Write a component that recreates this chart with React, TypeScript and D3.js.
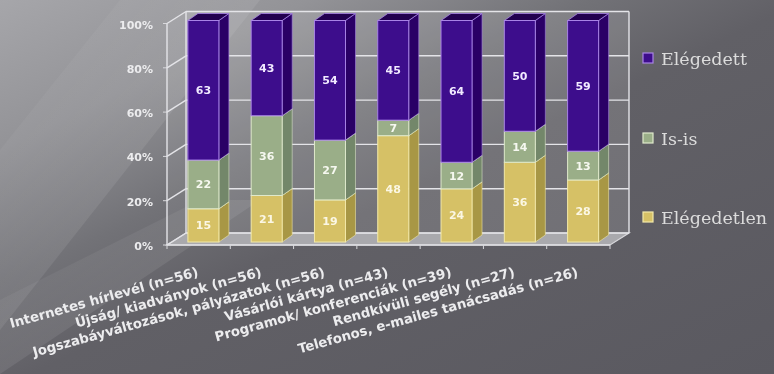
import React from "react";
import * as d3 from "d3";

const categories = [
  "Internetes hírlevél (n=56)",
  "Újság/ kiadványok (n=56)",
  "Jogszabáyváltozások, pályázatok (n=56)",
  "Vásárlói kártya (n=43)",
  "Programok/ konferenciák (n=39)",
  "Rendkívüli segély (n=27)",
  "Telefonos, e-mailes tanácsadás (n=26)",
];
const elegedetlen = [15, 21, 19, 48, 24, 36, 28];
const isis = [22, 36, 27, 7, 12, 14, 13];
const elegedett = [63, 43, 54, 45, 64, 50, 59];
const seriesNames = ["Elégedetlen", "Is-is", "Elégedett"];
const yTicks = [0, 20, 40, 60, 80, 100];

const W = 774;
const H = 374;

const palette = [
  { front: "#d6c166", side: "#a89745", top: "#c4b058", stroke: "#f3e9a8", text: "#fbf7e4" },
  { front: "#9aae88", side: "#73876a", top: "#889c78", stroke: "#dfe9cc", text: "#f6f8f0" },
  { front: "#3c0b8c", side: "#2a0566", top: "#22054f", stroke: "#a883e6", text: "#f1eaff" },
];

export default function App() {
  const x = d3.scaleBand<string>().domain(categories).range([167, 610]).padding(0);
  const yF = d3.scaleLinear().domain([0, 100]).range([245, 23.5]);
  const D = { dx: 19, dy: -12 };
  const f = 0.25;
  const bd = { dx: 10, dy: -7 };
  const bw = x.bandwidth() * 0.49;

  const stackData = categories.map((c, i) => ({
    cat: c,
    0: elegedetlen[i],
    1: isis[i],
    2: elegedett[i],
  }));
  const stack = d3.stack<any>().keys(["0", "1", "2"]);
  const layers = stack(stackData as any);

  const x0 = 167, x1 = 610;
  const backY = (v: number) => yF(v) + D.dy;
  const pts = (arr: number[][]) => arr.map((p) => p.join(",")).join(" ");

  return (
    <svg width={W} height={H} style={{ position: "absolute", left: 0, top: 0 }}>
      <defs>
        <linearGradient id="bg" x1="0" y1="0" x2="1" y2="1">
          <stop offset="0" stopColor="#a6a6aa" />
          <stop offset="0.2" stopColor="#939397" />
          <stop offset="0.38" stopColor="#727277" />
          <stop offset="0.52" stopColor="#616066" />
          <stop offset="1" stopColor="#5a5960" />
        </linearGradient>
        <linearGradient id="streak" x1="0" y1="0" x2="1" y2="1">
          <stop offset="0" stopColor="#ffffff" stopOpacity="0" />
          <stop offset="0.5" stopColor="#ffffff" stopOpacity="0.08" />
          <stop offset="1" stopColor="#ffffff" stopOpacity="0" />
        </linearGradient>
        <filter id="blur">
          <feGaussianBlur stdDeviation="0.45" />
        </filter>
      </defs>
      <rect width={W} height={H} fill="url(#bg)" />
      <polygon points="0,150 120,0 260,0 0,330" fill="url(#streak)" />
      <polygon points="0,300 200,200 260,200 0,374" fill="url(#streak)" />

      <g filter="url(#blur)">
        <rect
          x={x0 + D.dx}
          y={backY(100)}
          width={x1 - x0}
          height={backY(0) - backY(100)}
          fill="#ffffff"
          fillOpacity={0.12}
        />
        <polygon
          points={pts([
            [x0, yF(0)],
            [x0, yF(100)],
            [x0 + D.dx, backY(100)],
            [x0 + D.dx, backY(0)],
          ])}
          fill="#ffffff"
          fillOpacity={0.06}
        />
        <polygon
          points={pts([
            [x0, yF(0)],
            [x1, yF(0)],
            [x1 + D.dx, backY(0)],
            [x0 + D.dx, backY(0)],
          ])}
          fill="#a9a9ad"
          stroke="#d8d8dc"
          strokeWidth={1.2}
        />
        {yTicks.map((t) => (
          <g key={t}>
            <line x1={x0 + D.dx} x2={x1 + D.dx} y1={backY(t)} y2={backY(t)} stroke="#e4e4e8" strokeWidth={1.4} />
            <line x1={x0} x2={x0 + D.dx} y1={yF(t)} y2={backY(t)} stroke="#e4e4e8" strokeWidth={1.4} />
            <line x1={x0 - 4} x2={x0} y1={yF(t)} y2={yF(t)} stroke="#d8d8dc" strokeWidth={1} />
            <text
              x={153}
              y={yF(t) + 2}
              textAnchor="end"
              dominantBaseline="middle"
              fontFamily="DejaVu Sans, Verdana, sans-serif"
              fontWeight="bold"
              fontSize={11}
              fill="#ececee"
            >
              {t}%
            </text>
          </g>
        ))}
        <line x1={x0} x2={x0} y1={yF(0)} y2={yF(100)} stroke="#e4e4e8" strokeWidth={1.4} />
        <line x1={x0 + D.dx} x2={x0 + D.dx} y1={backY(0)} y2={backY(100)} stroke="#e4e4e8" strokeWidth={1.4} />
        <line x1={x1 + D.dx} x2={x1 + D.dx} y1={backY(0)} y2={backY(100)} stroke="#e4e4e8" strokeWidth={1.4} />
        <line x1={x0} x2={x1} y1={yF(0)} y2={yF(0)} stroke="#e0e0e4" strokeWidth={1.6} />
        {categories.map((c) => (
          <line key={c} x1={x(c)!} x2={x(c)!} y1={yF(0)} y2={yF(0) + 4} stroke="#d8d8dc" strokeWidth={1} />
        ))}
        <line x1={x1} x2={x1} y1={yF(0)} y2={yF(0) + 4} stroke="#d8d8dc" strokeWidth={1} />

        {categories.map((c, i) => {
          const bx = x(c)! + (x.bandwidth() - bw) / 2 + D.dx * f;
          const sh = D.dy * f;
          return (
            <g key={c}>
              {layers.map((layer, li) => {
                const [v0, v1] = layer[i];
                const yb = yF(v0) + sh;
                const yt = yF(v1) + sh;
                const col = palette[li];
                const val = v1 - v0;
                return (
                  <g key={li}>
                    <polygon
                      points={pts([
                        [bx + bw, yb],
                        [bx + bw + bd.dx, yb + bd.dy],
                        [bx + bw + bd.dx, yt + bd.dy],
                        [bx + bw, yt],
                      ])}
                      fill={col.side}
                      stroke={col.stroke}
                      strokeWidth={0.8}
                      strokeOpacity={0.7}
                    />
                    <polygon
                      points={pts([
                        [bx, yt],
                        [bx + bw, yt],
                        [bx + bw + bd.dx, yt + bd.dy],
                        [bx + bd.dx, yt + bd.dy],
                      ])}
                      fill={col.top}
                      stroke={col.stroke}
                      strokeWidth={0.8}
                    />
                    <rect
                      x={bx}
                      y={yt}
                      width={bw}
                      height={yb - yt}
                      fill={col.front}
                      stroke={col.stroke}
                      strokeWidth={1}
                    />
                    <text
                      x={bx + bw / 2}
                      y={(yt + yb) / 2 + 1}
                      textAnchor="middle"
                      dominantBaseline="middle"
                      fontFamily="DejaVu Sans, Verdana, sans-serif"
                      fontWeight="bold"
                      fontSize={11}
                      fill={col.text}
                    >
                      {val}
                    </text>
                  </g>
                );
              })}
            </g>
          );
        })}

        {categories.map((c) => (
          <text
            key={c}
            transform={`translate(${x(c)! + x.bandwidth() / 2 + 0.5},276) rotate(-15.5)`}
            textAnchor="end"
            fontFamily="DejaVu Sans, Verdana, sans-serif"
            fontWeight="bold"
            fontSize={13.3}
            fill="#ececee"
          >
            {c}
          </text>
        ))}

        {[2, 1, 0].map((li, k) => {
          const ly = [65, 145, 224][k];
          return (
            <g key={li}>
              <rect x={643} y={ly - 12} width={10} height={10} fill={palette[li].front} stroke={palette[li].stroke} strokeWidth={1.2} />
              <text x={661} y={ly} fontFamily="DejaVu Serif, serif" fontSize={17.5} fill="#dcdcdc">
                {seriesNames[li]}
              </text>
            </g>
          );
        })}
      </g>
    </svg>
  );
}
